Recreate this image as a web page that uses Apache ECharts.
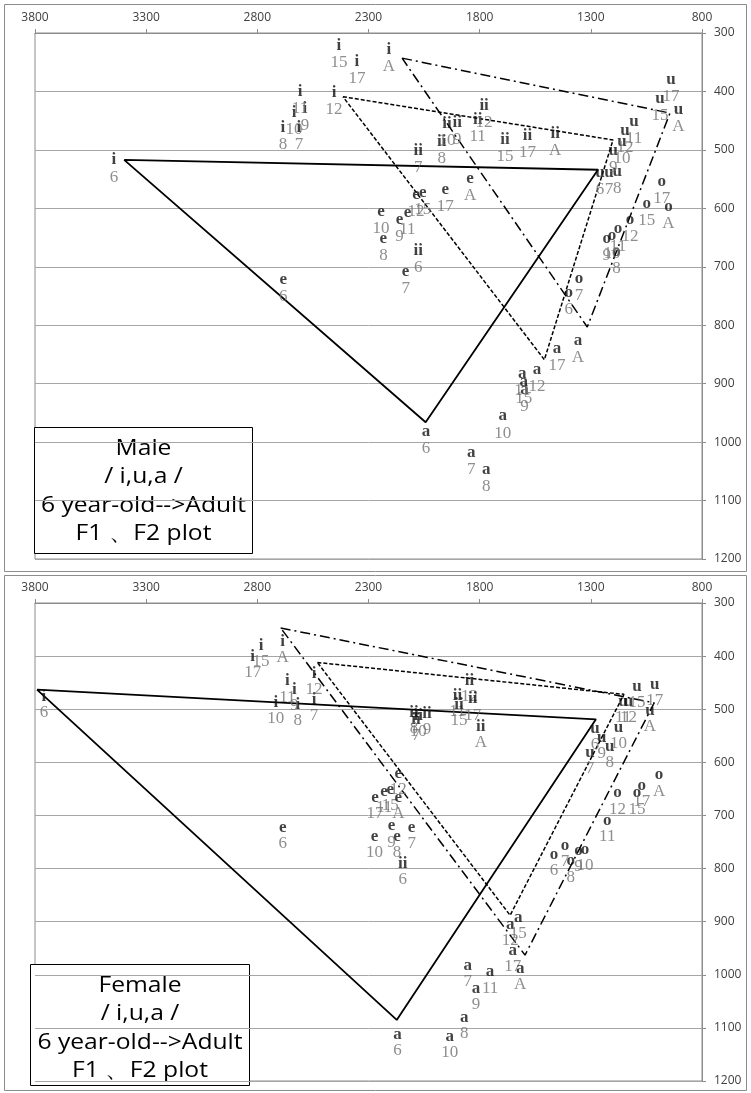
<!DOCTYPE html>
<html>
<head>
<meta charset="utf-8">
<script src="https://cdn.jsdelivr.net/npm/echarts@6/dist/echarts.min.js"></script>
<style>
  html, body { margin: 0; padding: 0; background: #fff; }
  #chart { width: 751px; height: 1093px; }
</style>
</head>
<body>
<div id="chart"></div>
<script>
// ages on every label, same order for all arrays below
let ages = ['6', '7', '8', '9', '10', '11', '12', '15', '17', 'A'];
let f2Ticks = [800, 1300, 1800, 2300, 2800, 3300, 3800];

// ---- male: [F2 values], [F1 values] per vowel, by age ----
let maleI_F2  = [3445, 2613, 2685, 2586, 2635, 2608, 2455, 2433, 2352, 2208];
let maleI_F1  = [532, 476, 476, 444, 450, 414, 416, 336, 363, 343];
let maleII_F2 = [2076, 2076, 1971, 1901, 1947, 1809, 1780, 1686, 1585, 1460];
let maleII_F1 = [687, 515, 500, 468, 470, 463, 438, 497, 490, 486];
let maleE_F2  = [2683, 2133, 2233, 2161, 2244, 2125, 2086, 2056, 1955, 1843];
let maleE_F1  = [736, 723, 667, 634, 620, 622, 591, 587, 583, 564];
let maleA_F2  = [2041, 1838, 1770, 1598, 1696, 1608, 1542, 1602, 1452, 1358];
let maleA_F1  = [996, 1033, 1062, 924, 970, 897, 890, 911, 855, 841];
let maleO_F2  = [1399, 1353, 1184, 1228, 1205, 1178, 1124, 1049, 981, 951];
let maleO_F1  = [758, 734, 688, 667, 662, 650, 634, 606, 569, 611];
let maleU_F2  = [1259, 1218, 1181, 1199, 1160, 1106, 1146, 989, 939, 906];
let maleU_F1  = [554, 554, 551, 515, 500, 466, 481, 426, 394, 445];

// triangle corners i, u, a  (F2, F1)
let maleTri6  = [[3399, 517], [1268, 534], [2043, 966]];
let maleTri12 = [[2415, 409], [1200, 483], [1509, 859]];
let maleTriA  = [[2149, 343], [944, 437], [1316, 803]];

// ---- female ----
let femI_F2  = [3760, 2545, 2618, 2634, 2717, 2665, 2545, 2783, 2821, 2686];
let femI_F1  = [491, 497, 506, 478, 502, 462, 448, 396, 416, 387];
let femII_F2 = [2146, 2086, 2095, 2037, 2076, 1900, 1846, 1893, 1831, 1795];
let femII_F1 = [806, 535, 522, 523, 527, 489, 461, 507, 496, 547];
let femE_F2  = [2686, 2106, 2172, 2196, 2273, 2230, 2166, 2202, 2271, 2166];
let femE_F1  = [738, 738, 754, 735, 754, 670, 637, 667, 681, 681];
let femA_F2  = [2170, 1854, 1869, 1816, 1935, 1753, 1663, 1627, 1651, 1618];
let femA_F1  = [1128, 998, 1096, 1041, 1132, 1010, 921, 908, 969, 1004];
let femO_F2  = [1466, 1416, 1390, 1356, 1326, 1226, 1180, 1092, 1071, 993];
let femO_F1  = [788, 771, 801, 781, 780, 725, 673, 673, 659, 639];
let femU_F2  = [1281, 1304, 1215, 1251, 1176, 1155, 1131, 1092, 1013, 1034];
let femU_F1  = [552, 596, 585, 569, 550, 500, 501, 473, 469, 518];

let femTri6  = [[3791, 463], [1277, 519], [2173, 1085]];
let femTri12 = [[2530, 412], [1151, 472], [1663, 888]];
let femTriA  = [[2695, 347], [1015, 488], [1596, 963]];

function vowelPoints(vowel, f2, f1) {
    return ages.map(function (age, k) { return [f2[k], f1[k], vowel, age]; });
}

function closeTri(tri) {
    return tri.concat([tri[0]]);
}

let axisGray = '#8c8c8c';
let labelFont = 'Open Sans';

function xAxisFor(gridIndex) {
    return {
        type: 'value', gridIndex: gridIndex, position: 'top', inverse: true,
        min: 800, max: 3800, interval: 500,
        axisLine: {show: true, lineStyle: {color: axisGray}},
        axisTick: {show: true, length: 4, lineStyle: {color: axisGray}, customValues: f2Ticks},
        axisLabel: {color: '#404040', fontFamily: labelFont, fontSize: 12, margin: 9,
            customValues: f2Ticks, formatter: function (v) { return String(v); }},
        splitLine: {show: false}
    };
}

function yAxisFor(gridIndex) {
    return {
        type: 'value', gridIndex: gridIndex, position: 'right', inverse: true,
        min: 300, max: 1200, interval: 100,
        axisLine: {show: true, lineStyle: {color: axisGray}},
        axisTick: {show: true, length: 4, lineStyle: {color: axisGray}},
        axisLabel: {color: '#404040', fontFamily: labelFont, fontSize: 12, margin: 12,
            formatter: function (v) { return String(v); }},
        splitLine: {show: true, lineStyle: {color: '#a6a6a6', width: 1}}
    };
}

function labelSeries(idx, lh, pts) {
    return {
        type: 'scatter', xAxisIndex: idx, yAxisIndex: idx,
        symbolSize: 1, itemStyle: {color: 'rgba(0,0,0,0)'}, z: 5,
        data: pts,
        label: {
            show: true, position: 'inside',
            formatter: function (p) { return '{v|' + p.data[2] + '}\n{n|' + p.data[3] + '}'; },
            rich: {
                v: {fontFamily: 'Liberation Serif', fontSize: 17, fontWeight: 'bold', color: '#111', lineHeight: lh},
                n: {fontFamily: 'Liberation Serif', fontSize: 17, color: '#727272', lineHeight: lh}
            }
        },
        labelLayout: {hideOverlap: false}
    };
}

function triSeries(idx, tri, dash, width) {
    return {
        type: 'line', xAxisIndex: idx, yAxisIndex: idx,
        data: closeTri(tri), symbol: 'none', z: 3, silent: true,
        lineStyle: {color: '#000', width: width, type: dash}
    };
}

let malePts = [].concat(
    vowelPoints('i', maleI_F2, maleI_F1), vowelPoints('ii', maleII_F2, maleII_F1),
    vowelPoints('e', maleE_F2, maleE_F1), vowelPoints('a', maleA_F2, maleA_F1),
    vowelPoints('o', maleO_F2, maleO_F1), vowelPoints('u', maleU_F2, maleU_F1));
let femPts = [].concat(
    vowelPoints('i', femI_F2, femI_F1), vowelPoints('ii', femII_F2, femII_F1),
    vowelPoints('e', femE_F2, femE_F1), vowelPoints('a', femA_F2, femA_F1),
    vowelPoints('o', femO_F2, femO_F1), vowelPoints('u', femU_F2, femU_F1));

function legendBox(x, y, w, h, title) {
    let lines = [title, '/ i,u,a /', '6 year-old-->Adult', 'F1 \u3001F2 plot'];
    let kids = [{type: 'rect', shape: {x: 0, y: 0, width: w, height: h},
        style: {fill: '#fff', stroke: '#000', lineWidth: 1}}];
    lines.forEach(function (t, k) {
        kids.push({type: 'text', x: w / 2, y: 21 + k * 28.5, scaleX: 1.12,
            style: {text: t, fill: '#000', font: '22px "Open Sans"', align: 'center', verticalAlign: 'middle'}});
    });
    return {type: 'group', x: x, y: y, z: 100, children: kids};
}

let myChart = echarts.init(document.getElementById('chart'), null, {renderer: 'canvas'});
let option = {
    backgroundColor: '#fff',
    animation: false,
    grid: [
        {left: 35, top: 33, width: 667, height: 526, show: true, borderColor: axisGray, borderWidth: 1},
        {left: 35, top: 603, width: 667, height: 478, show: true, borderColor: axisGray, borderWidth: 1}
    ],
    xAxis: [xAxisFor(0), xAxisFor(1)],
    yAxis: [yAxisFor(0), yAxisFor(1)],
    series: [
        triSeries(0, maleTri6, 'solid', 1.8),
        triSeries(0, maleTri12, [4, 2], 1.5),
        triSeries(0, maleTriA, [10, 4, 2, 4], 1.5),
        labelSeries(0, 17, malePts),
        triSeries(1, femTri6, 'solid', 1.8),
        triSeries(1, femTri12, [4, 2], 1.5),
        triSeries(1, femTriA, [10, 4, 2, 4], 1.5),
        labelSeries(1, 16, femPts)
    ],
    graphic: [
        {type: 'rect', shape: {x: 4.5, y: 4.5, width: 742, height: 567}, z: -1,
            style: {fill: 'none', stroke: '#8c8c8c', lineWidth: 1}},
        {type: 'rect', shape: {x: 4.5, y: 575.5, width: 742, height: 515}, z: -1,
            style: {fill: 'none', stroke: '#8c8c8c', lineWidth: 1}},
        legendBox(34.5, 427.5, 218, 126, 'Male'),
        legendBox(30.5, 964.5, 219, 121, 'Female')
    ]
};
myChart.setOption(option);
</script>
</body>
</html>
